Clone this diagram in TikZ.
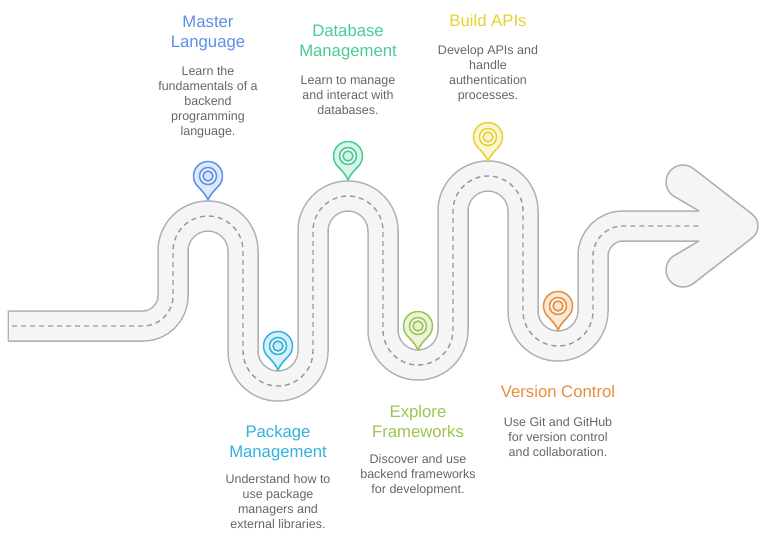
\documentclass[tikz,border=0pt]{standalone}
\usepackage{fontspec}
\setmainfont{Liberation Sans}
\usetikzlibrary{positioning}
\definecolor{roadline}{HTML}{B0B0B0}
\definecolor{roadfill}{HTML}{F5F5F5}
\definecolor{roaddash}{HTML}{999999}
\definecolor{bodytext}{HTML}{666666}
\definecolor{bluepin}{HTML}{5B8FE6}
\definecolor{cyanpin}{HTML}{2FB2DE}
\definecolor{greenpin}{HTML}{47CC92}
\definecolor{limepin}{HTML}{9DC44C}
\definecolor{yellowpin}{HTML}{E8D02E}
\definecolor{orangepin}{HTML}{E58D3F}
\newcommand{\roadpath}{-- (143,326) arc (90:0:30) -- (173,251) arc (180:360:35)
  -- (243,351) arc (180:0:35) -- (313,231) arc (180:360:35)
  -- (383,330) arc (180:0:35) -- (453,211) arc (180:360:35)
  -- (523,311) arc (180:0:35) -- (593,256) arc (180:270:30)}

\begin{document}
\begin{tikzpicture}[
x=1pt,y=-1pt,
titlenode/.style={align=center, inner sep=0pt, font=\fontsize{16.7}{20}\selectfont},
bodynode/.style={align=center, inner sep=0pt, text=bodytext, font=\fontsize{12.5}{15}\selectfont},
roadpin/.pic={
  \draw[#1, line width=1.5pt, fill=#1!20, line join=round] (0,24) .. controls (2.5,18) and (6,15) .. (45:14.5)
    arc (45:-225:14.5) .. controls (-6,15) and (-2.5,18) .. cycle;
  \draw[#1, line width=1.5pt, fill=#1!8] (0,0) circle[radius=8.5pt];
  \draw[#1, line width=1.5pt, fill=#1!25] (0,0) circle[radius=5pt];
},
]
\useasboundingbox (0,0) rectangle (768,536);

%Road
\draw[roadline, fill=roadfill, line width=1.5pt] (699,211) -- (672.8,195.6) arc (126.9:306.9:17)
  -- (752,214) arc (-53.1:53.1:15) -- (693.2,283.6) arc (53.1:233.1:17) -- (699,241);
\draw[roadline, line width=31.5pt] (7.5,326) \roadpath -- (623,226) -- (699,226);
\draw[roadfill, line width=28.5pt] (9,326) \roadpath -- (623,226) -- (702,226);
\draw[roaddash, line width=1.4pt, dash pattern=on 5pt off 4pt] (12,326) \roadpath -- (623,226) -- (699,226);

%Pins
\pic at (208,176) {roadpin=bluepin};
\pic at (278,346) {roadpin=cyanpin};
\pic at (348,156) {roadpin=greenpin};
\pic at (418,326) {roadpin=limepin};
\pic at (488,137) {roadpin=yellowpin};
\pic at (558,306) {roadpin=orangepin};

%Labels
\node[titlenode, text=bluepin](master) at (208,33){Master\\Language};
\node[bodynode](masterbody)[below=16pt of master]{Learn the\\fundamentals of a\\backend\\programming\\language.};
\node[titlenode, text=greenpin](database) at (348,42){Database\\Management};
\node[bodynode](databasebody)[below=16pt of database]{Learn to manage\\and interact with\\databases.};
\node[titlenode, text=yellowpin](apis) at (488,21){Build APIs};
\node[bodynode](apisbody)[below=18pt of apis]{Develop APIs and\\handle\\authentication\\processes.};
\node[titlenode, text=cyanpin](package) at (278,443){Package\\Management};
\node[bodynode](packagebody)[below=13pt of package]{Understand how to\\use package\\managers and\\external libraries.};
\node[titlenode, text=limepin](explore) at (418,422){Explore\\Frameworks};
\node[bodynode](explorebody)[below=16pt of explore]{Discover and use\\backend frameworks\\for development.};
\node[titlenode, text=orangepin](version) at (558,392){Version Control};
\node[bodynode](versionbody)[below=19pt of version]{Use Git and GitHub\\for version control\\and collaboration.};
\end{tikzpicture}
\end{document}
